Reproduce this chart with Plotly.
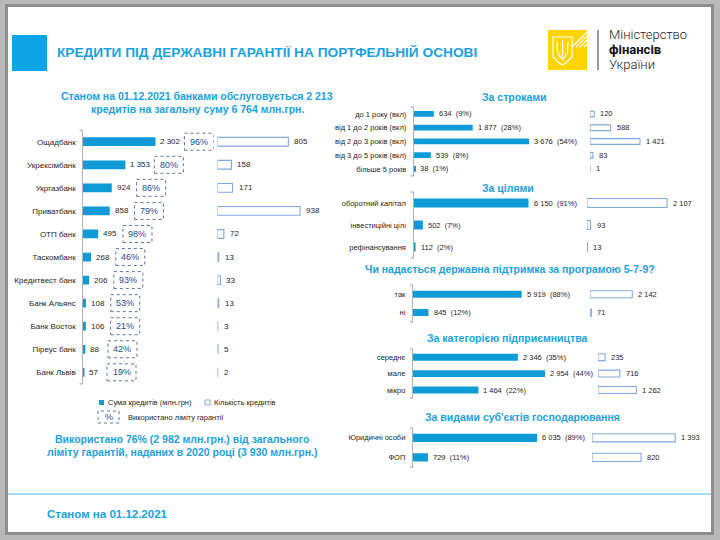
import plotly.graph_objects as go

# ---------------- data ----------------
banks = ["Ощадбанк", "Укрексімбанк", "Укргазбанк", "Приватбанк", "ОТП банк",
         "Таскомбанк", "Кредитвест банк", "Банк Альянс", "Банк Восток",
         "Піреус банк", "Банк Львів"]
bank_sum = [2302, 1353, 924, 858, 495, 268, 206, 108, 106, 88, 57]
bank_limit_pct = [96, 80, 86, 79, 98, 46, 93, 53, 21, 42, 19]
bank_count = [805, 158, 171, 938, 72, 13, 33, 13, 3, 5, 2]

term_cats = ["до 1 року (вкл)", "від 1 до 2 років (вкл)", "від 2 до 3 років (вкл)",
             "від 3 до 5 років (вкл)", "більше 5 років"]
term_sum = [634, 1877, 3676, 539, 38]
term_pct = [9, 28, 54, 8, 1]
term_count = [120, 588, 1421, 83, 1]

purpose_cats = ["оборотний капітал", "інвестиційні цілі", "рефінансування"]
purpose_sum = [6150, 502, 112]
purpose_pct = [91, 7, 2]
purpose_count = [2107, 93, 13]

program_cats = ["так", "ні"]
program_sum = [5919, 845]
program_pct = [88, 12]
program_count = [2142, 71]

size_cats = ["середнє", "мале", "мікро"]
size_sum = [2346, 2954, 1464]
size_pct = [35, 44, 22]
size_count = [235, 716, 1262]

entity_cats = ["Юридичні особи", "ФОП"]
entity_sum = [6035, 729]
entity_pct = [89, 11]
entity_count = [1393, 820]

# ---------------- style ----------------
W, H = 720, 540
BLUE = "#0f9bd7"
TITLE_BLUE = "#1ba1e2"
OUTLINE = "#82a9de"
DASH = "#5f739e"
PCT_TXT = "#2d4b8c"
AXIS = "#b3b3b3"
TXT = "#262626"
FONT = "Liberation Sans, Arial, sans-serif"
LOGO_FONT = "Roboto, Liberation Sans, sans-serif"


def px(x):
    return x / W


def py(y):
    return 1 - y / H


def fmt(v):
    return f"{v:,}".replace(",", "\u00a0")


specs = [
    dict(title=None, cats=banks, sums=bank_sum, pcts=bank_limit_pct, counts=bank_count,
         ax=82.5, ss=0.0317, cx=217.5, cs=0.088, top=130.2, row=23.06, bw=0.38,
         lab=8, val=8, boxed=True),
    dict(title="За строками", txy=(514, 97), cats=term_cats, sums=term_sum, pcts=term_pct,
         counts=term_count, ax=414, ss=0.03128, cx=590, cs=0.0352, top=107.1, row=13.75,
         bw=0.42, lab=7.5, val=7.5, boxed=False),
    dict(title="За цілями", txy=(508, 188), cats=purpose_cats, sums=purpose_sum,
         pcts=purpose_pct, counts=purpose_count, ax=413.5, ss=0.0187, cx=587, cs=0.038,
         top=192, row=22, bw=0.41, lab=7.5, val=7.5, boxed=False),
    dict(title="Чи надається державна підтримка за програмою 5-7-9?", txy=(510, 269),
         cats=program_cats, sums=program_sum, pcts=program_pct, counts=program_count,
         ax=413, ss=0.01836, cx=590, cs=0.01975, top=285, row=18.4, bw=0.38,
         lab=7.5, val=7.5, boxed=False),
    dict(title="За категорією підприємництва", txy=(507, 338), cats=size_cats,
         sums=size_sum, pcts=size_pct, counts=size_count, ax=413, ss=0.0447, cx=598,
         cs=0.0304, top=349, row=16.4, bw=0.42, lab=7.5, val=7.5, boxed=False),
    dict(title="За видами суб'єктів господарювання", txy=(522, 417), cats=entity_cats,
         sums=entity_sum, pcts=entity_pct, counts=entity_count, ax=413, ss=0.02055,
         cx=592, cs=0.0598, top=428, row=19.6, bw=0.42, lab=7.5, val=7.5, boxed=False),
]

fig = go.Figure()
layout = {}
shapes = []
annotations = []


def text(x, y, s, size, color=TXT, bold=False, anchor="left", family=FONT, weight=None):
    d = dict(x=px(x), y=py(y), xref="paper", yref="paper", text=s, showarrow=False,
             xanchor=anchor, yanchor="middle",
             font=dict(family=family, size=size, color=color))
    if bold:
        d["font"]["weight"] = "bold"
    if weight is not None:
        d["font"]["weight"] = weight
    annotations.append(d)


def rect(x0, y0, x1, y1, fill=None, line=None, lw=1, dash=None, layer="above"):
    d = dict(type="rect", xref="paper", yref="paper", x0=px(x0), x1=px(x1),
             y0=py(y1), y1=py(y0), layer=layer,
             fillcolor=fill if fill else "rgba(0,0,0,0)",
             line=dict(width=lw if line else 0, color=line if line else "rgba(0,0,0,0)"))
    if dash:
        d["line"]["dash"] = dash
    shapes.append(d)


def line(x0, y0, x1, y1, color, lw=1, layer="above"):
    shapes.append(dict(type="line", xref="paper", yref="paper", x0=px(x0), y0=py(y0),
                       x1=px(x1), y1=py(y1), layer=layer,
                       line=dict(color=color, width=lw)))


def path(points, color, lw=1, fill=None, closed=False):
    p = "M " + " L ".join(f"{px(a):.5f},{py(b):.5f}" for a, b in points)
    if closed:
        p += " Z"
    shapes.append(dict(type="path", xref="paper", yref="paper", path=p,
                       line=dict(color=color, width=lw),
                       fillcolor=fill if fill else "rgba(0,0,0,0)"))


# ---------------- frame ----------------
rect(5, 4, 714, 535, fill="#8e8e8e", layer="below")
rect(8, 7, 711, 532, fill="white", layer="below")

# ---------------- charts ----------------
for k, s in enumerate(specs):
    xs, xc, ya = f"x{2*k+1}", f"x{2*k+2}", f"y{k+1}"
    xs_l = "xaxis" if k == 0 else f"xaxis{2*k+1}"
    xc_l = f"xaxis{2*k+2}"
    ya_l = "yaxis" if k == 0 else f"yaxis{k+1}"
    n = len(s["cats"])
    bottom = s["top"] + n * s["row"]
    sum_w = s["cx"] - 4 - s["ax"]
    cnt_w = min(118, W - 2 - s["cx"])

    layout[xs_l] = dict(domain=[px(s["ax"]), px(s["ax"] + sum_w)], range=[0, sum_w / s["ss"]],
                        visible=False, anchor=ya, fixedrange=True)
    layout[xc_l] = dict(domain=[px(s["cx"]), px(s["cx"] + cnt_w)], range=[0, cnt_w / s["cs"]],
                        visible=False, anchor=ya, fixedrange=True)
    layout[ya_l] = dict(domain=[py(bottom), py(s["top"])], type="category",
                        categoryorder="array", categoryarray=s["cats"],
                        range=[n - 0.5, -0.5], autorange=False, anchor=xs,
                        showline=True, linecolor=AXIS, linewidth=1.3, ticks="",
                        showgrid=False, zeroline=False, fixedrange=True,
                        ticklabelstandoff=4 if k == 0 else 5,
                        tickfont=dict(family=FONT, size=s["lab"], color=TXT))

    fig.add_trace(go.Bar(orientation="h", y=s["cats"], x=s["sums"], xaxis=xs, yaxis=ya,
                         width=s["bw"], marker=dict(color=BLUE, line=dict(width=0)),
                         hoverinfo="skip", showlegend=False))
    fig.add_trace(go.Bar(orientation="h", y=s["cats"], x=s["counts"], xaxis=xc, yaxis=ya,
                         width=s["bw"], marker=dict(color="white", line=dict(width=1.1, color=OUTLINE)),
                         hoverinfo="skip", showlegend=False))

    for i, (c, v, p, cnt) in enumerate(zip(s["cats"], s["sums"], s["pcts"], s["counts"])):
        lab = fmt(v) if s["boxed"] else f"{fmt(v)}\u00a0\u00a0({p}%)"
        annotations.append(dict(x=v, y=c, xref=xs, yref=ya, text=lab, showarrow=False,
                                xanchor="left", yanchor="middle", xshift=3,
                                font=dict(family=FONT, size=s["val"], color=TXT)))
        annotations.append(dict(x=cnt, y=c, xref=xc, yref=ya, text=fmt(cnt), showarrow=False,
                                xanchor="left", yanchor="middle", xshift=4,
                                font=dict(family=FONT, size=s["val"], color=TXT)))
        if s["boxed"]:
            off = 18.5 + 2.1 * len(lab)
            shapes.append(dict(type="rect", xref=xs, yref=ya, xsizemode="pixel",
                               ysizemode="pixel", xanchor=v, yanchor=i, x0=off, x1=off + 29,
                               y0=-8.5, y1=8.5, line=dict(color=DASH, width=1, dash="dot"),
                               fillcolor="rgba(0,0,0,0)"))
            annotations.append(dict(x=v, y=c, xref=xs, yref=ya, text=f"{p}%", showarrow=False,
                                    xanchor="center", yanchor="middle", xshift=off + 14.5,
                                    font=dict(family=FONT, size=9, color=PCT_TXT)))

    # bracket hooks at the axis ends
    line(s["ax"] - 3, s["top"], s["ax"], s["top"], AXIS, 1.3)
    line(s["ax"] - 3, bottom, s["ax"], bottom, AXIS, 1.3)

    if s["title"]:
        text(s["txy"][0], s["txy"][1], s["title"], 10.5, TITLE_BLUE, bold=True, anchor="center")

# ---------------- header ----------------
rect(12, 35, 47, 71, fill="#0ea5e6")
text(55, 52.5, "КРЕДИТИ ПІД ДЕРЖАВНІ ГАРАНТІЇ НА ПОРТФЕЛЬНІЙ ОСНОВІ", 13.7, TITLE_BLUE,
     bold=True)

# logo
rect(548, 30, 587, 70, fill="#ffd400")
for i in range(4):
    line(572 + 4 * i, 47, 587, 32 + 4 * i, "white", 1.2)
path([(553, 37), (572, 37), (572, 57), (567, 62), (562.5, 65), (558, 62), (553, 57)],
     "white", 1.2, closed=True)
path([(562.5, 40), (562.5, 60)], "white", 1.2)
path([(557, 42), (557.5, 52), (560, 57), (562.5, 58.5), (565, 57), (567.5, 52), (568, 42)],
     "white", 1.2)
line(598, 30, 598, 70, "#333333", 1)
text(607, 35, "Міністерство", 13, "#222222", family=LOGO_FONT, weight=300)
text(607, 50, "фінансів", 13, "#111111", bold=True, family=LOGO_FONT)
text(607, 65, "України", 13, "#222222", family=LOGO_FONT, weight=300)

# left subtitle
text(197, 96, "Станом на 01.12.2021 банками обслуговується 2 213", 10.5, TITLE_BLUE,
     bold=True, anchor="center")
text(197, 109, "кредитів на загальну суму 6 764 млн.грн.", 10.5, TITLE_BLUE,
     bold=True, anchor="center")

# left legend
rect(99, 400, 104, 405, fill=BLUE)
text(105.5, 402.5, "Сума кредитів (млн.грн)", 7.5)
rect(205, 400, 210, 405, fill="white", line=OUTLINE, lw=1)
text(211.5, 402.5, "Кількість кредитів", 7.5)
rect(98, 411, 119, 423, line=DASH, lw=1, dash="dot")
text(108.5, 417, "%", 9, PCT_TXT, anchor="center")
text(126, 417, "Використано ліміту гарантії", 7.5)

# summary
text(182, 439, "Використано 76% (2 982 млн.грн.) від загального", 10.5, TITLE_BLUE,
     bold=True, anchor="center")
text(182, 452.5, "ліміту гарантій, наданих в 2020 році (3 930 млн.грн.)", 10.5, TITLE_BLUE,
     bold=True, anchor="center")

# footer
line(8, 494, 711, 494, "#a3dcf3", 2)
text(45, 514, "Станом на 01.12.2021", 11.5, TITLE_BLUE, bold=True)

fig.update_layout(width=W, height=H, autosize=False, margin=dict(l=0, r=0, t=0, b=0),
                  paper_bgcolor="#b9b9b9", plot_bgcolor="rgba(0,0,0,0)",
                  showlegend=False, barmode="overlay", shapes=shapes,
                  annotations=annotations, **layout)

fig.write_html("out.html", config={"displayModeBar": False},
               post_script="document.body.style.margin='0px';"
                           "document.body.style.overflow='hidden';")
